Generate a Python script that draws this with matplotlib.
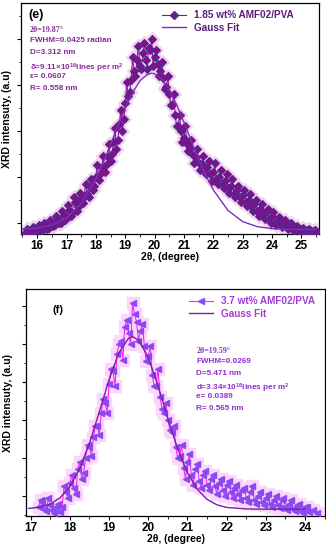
import numpy as np
import matplotlib
matplotlib.use('Agg')
import matplotlib.pyplot as plt
from matplotlib.ticker import MultipleLocator, NullFormatter

plt.rcParams['font.family'] = ['Liberation Sans', 'DejaVu Sans']
plt.rcParams['font.weight'] = 'bold'
plt.rcParams['mathtext.fontset'] = 'custom'
plt.rcParams['mathtext.rm'] = 'Liberation Sans:bold'
plt.rcParams['mathtext.bf'] = 'Liberation Sans:bold'
plt.rcParams['mathtext.default'] = 'bf'

# panel (e): 1.85 wt% AMF02/PVA  (two interleaved reads of the scan)
theta_e = [15.6, 15.7, 15.8, 15.9, 16.0, 16.1, 16.2, 16.3, 16.4, 16.5,
           16.6, 16.7, 16.8, 16.9, 17.0, 17.1, 17.2, 17.3, 17.4, 17.5,
           17.6, 17.7, 17.8, 17.9, 18.0, 18.1, 18.2, 18.3, 18.4, 18.5,
           18.6, 18.7, 18.8, 18.9, 19.0, 19.1, 19.2, 19.3, 19.4, 19.5,
           19.6, 19.7, 19.8, 19.9, 20.0, 20.1, 20.2, 20.3, 20.4, 20.5,
           20.6, 20.7, 20.8, 20.9, 21.0, 21.1, 21.2, 21.3, 21.4, 21.5,
           21.6, 21.7, 21.8, 21.9, 22.0, 22.1, 22.2, 22.3, 22.4, 22.5,
           22.6, 22.7, 22.8, 22.9, 23.0, 23.1, 23.2, 23.3, 23.4, 23.5,
           23.6, 23.7, 23.8, 23.9, 24.0, 24.1, 24.2, 24.3, 24.4, 24.5,
           24.6, 24.7, 24.8, 24.9, 25.0, 25.1, 25.2, 25.3, 25.4, 25.5]
inten_e = [0.78, 0.84, 0.80, 0.86, 0.82, 0.90, 0.85, 0.93, 0.88, 1.00,
           0.94, 1.08, 1.00, 1.16, 1.10, 1.28, 1.20, 1.45, 1.33, 1.52,
           1.55, 1.62, 1.78, 1.70, 2.00, 1.92, 2.20, 2.10, 2.42, 2.35,
           2.75, 2.60, 3.15, 3.00, 3.60, 3.75, 4.10, 4.30, 4.55, 4.40,
           4.70, 4.55, 4.80, 5.00, 4.60, 4.45, 4.30, 4.15, 3.95, 3.80,
           3.55, 3.35, 3.10, 3.00, 2.85, 2.70, 2.62, 2.48, 2.42, 2.30,
           2.28, 2.15, 2.20, 2.05, 2.10, 1.95, 2.00, 1.85, 1.90, 1.75,
           1.80, 1.62, 1.70, 1.55, 1.60, 1.45, 1.50, 1.36, 1.40, 1.26,
           1.30, 1.18, 1.22, 1.08, 1.14, 1.00, 1.06, 0.95, 1.00, 0.90,
           0.93, 0.86, 0.90, 0.83, 0.86, 0.80, 0.84, 0.79, 0.82, 0.80]
theta_e2 = [15.65, 15.75, 15.85, 15.95, 16.05, 16.15, 16.25, 16.35, 16.45, 16.55,
            16.65, 16.75, 16.85, 16.95, 17.05, 17.15, 17.25, 17.35, 17.45, 17.55,
            17.65, 17.75, 17.85, 17.95, 18.05, 18.15, 18.25, 18.35, 18.45, 18.55,
            18.65, 18.75, 18.85, 18.95, 19.05, 19.15, 19.25, 19.35, 19.45, 19.55,
            19.65, 19.75, 19.85, 19.95, 20.05, 20.15, 20.25, 20.35, 20.45, 20.55,
            20.65, 20.75, 20.85, 20.95, 21.05, 21.15, 21.25, 21.35, 21.45, 21.55,
            21.65, 21.75, 21.85, 21.95, 22.05, 22.15, 22.25, 22.35, 22.45, 22.55,
            22.65, 22.75, 22.85, 22.95, 23.05, 23.15, 23.25, 23.35, 23.45, 23.55,
            23.65, 23.75, 23.85, 23.95, 24.05, 24.15, 24.25, 24.35, 24.45, 24.55,
            24.65, 24.75, 24.85, 24.95, 25.05, 25.15, 25.25, 25.35, 25.45]
inten_e2 = [0.86, 0.77, 0.90, 0.79, 0.95, 0.82, 1.00, 0.87, 1.05, 0.92,
            1.15, 0.98, 1.25, 1.05, 1.38, 1.15, 1.55, 1.25, 1.65, 1.42,
            1.85, 1.55, 1.95, 1.80, 2.25, 2.05, 2.45, 2.25, 2.70, 2.50,
            3.05, 2.80, 3.45, 3.25, 4.05, 3.85, 4.60, 4.20, 4.85, 4.35,
            4.90, 4.35, 4.75, 4.40, 4.75, 4.20, 4.50, 3.90, 4.20, 3.55,
            3.80, 3.10, 3.35, 2.75, 3.10, 2.55, 2.80, 2.30, 2.60, 2.15,
            2.45, 2.05, 2.35, 1.90, 2.30, 1.85, 2.15, 1.75, 2.05, 1.65,
            1.95, 1.55, 1.80, 1.45, 1.70, 1.35, 1.62, 1.25, 1.50, 1.15,
            1.40, 1.08, 1.30, 1.00, 1.22, 0.95, 1.12, 0.90, 1.05, 0.85,
            0.98, 0.82, 0.92, 0.80, 0.88, 0.78, 0.85, 0.77, 0.83]
fit_theta_e = [15.5, 16.0, 16.5, 17.0, 17.5, 18.0, 18.25, 18.5, 18.75, 19.0,
               19.25, 19.5, 19.75, 19.9, 20.0, 20.25, 20.5, 20.75, 21.0, 21.25,
               21.5, 21.75, 22.0, 22.5, 23.0, 23.5, 24.0, 24.5, 25.0, 25.5]
fit_e = [0.858, 0.880, 0.943, 1.098, 1.415, 1.954, 2.305, 2.696, 3.101, 3.492,
         3.831, 4.085, 4.226, 4.250, 4.239, 4.122, 3.890, 3.565, 3.182, 2.777,
         2.382, 2.021, 1.711, 1.264, 1.020, 0.910, 0.868, 0.854, 0.851, 0.850]

# panel (f): 3.7 wt% AMF02/PVA
theta_f = [17.2, 17.3, 17.4, 17.5, 17.6, 17.7, 17.8, 17.9, 18.0, 18.1,
           18.2, 18.3, 18.4, 18.5, 18.6, 18.7, 18.8, 18.9, 19.0, 19.1,
           19.2, 19.3, 19.4, 19.5, 19.6, 19.7, 19.8, 19.9, 20.0, 20.1,
           20.2, 20.3, 20.4, 20.5, 20.6, 20.7, 20.8, 20.9, 21.0, 21.1,
           21.2, 21.3, 21.4, 21.5, 21.6, 21.7, 21.8, 21.9, 22.0, 22.1,
           22.2, 22.3, 22.4, 22.5, 22.6, 22.7, 22.8, 22.9, 23.0, 23.1,
           23.2, 23.3, 23.4, 23.5, 23.6, 23.7, 23.8, 23.9, 24.0, 24.1,
           24.2, 24.3]
inten_f = [0.72, 0.85, 0.60, 0.75, 0.55, 0.80, 0.70, 1.10, 1.35, 1.20,
           1.70, 1.45, 2.00, 2.30, 2.55, 2.85, 3.20, 3.45, 3.95, 4.30,
           4.75, 5.10, 5.45, 5.30, 6.10, 5.60, 5.35, 4.95, 4.70, 4.20,
           3.90, 3.60, 3.20, 3.00, 2.70, 2.30, 2.05, 1.75, 1.90, 1.55,
           1.70, 1.40, 1.55, 1.30, 1.45, 1.25, 1.35, 1.15, 1.30, 1.10,
           1.20, 1.05, 1.15, 0.95, 1.10, 0.90, 1.00, 0.85, 0.95, 0.80,
           0.90, 0.75, 0.88, 0.70, 0.80, 0.65, 0.75, 0.60, 0.70, 0.58,
           0.62, 0.55]
theta_f2 = [17.25, 17.35, 17.45, 17.55, 17.65, 17.75, 17.85, 17.95, 18.05, 18.15,
            18.25, 18.35, 18.45, 18.55, 18.65, 18.75, 18.85, 18.95, 19.05, 19.15,
            19.25, 19.35, 19.45, 19.55, 19.65, 19.75, 19.85, 19.95, 20.05, 20.15,
            20.25, 20.35, 20.45, 20.55, 20.65, 20.75, 20.85, 20.95, 21.05, 21.15,
            21.25, 21.35, 21.45, 21.55, 21.65, 21.75, 21.85, 21.95, 22.05, 22.15,
            22.25, 22.35, 22.45, 22.55, 22.65, 22.75, 22.85, 22.95, 23.05, 23.15,
            23.25, 23.35, 23.45, 23.55, 23.65, 23.75, 23.85, 23.95, 24.05]
inten_f2 = [0.90, 0.65, 0.95, 0.62, 0.70, 0.58, 1.25, 0.95, 1.55, 1.05,
            1.90, 1.60, 2.35, 2.05, 2.85, 2.60, 3.55, 3.20, 4.35, 3.90,
            5.00, 4.60, 5.65, 5.00, 5.80, 5.10, 5.55, 4.55, 4.95, 3.90,
            4.35, 3.30, 3.45, 2.75, 2.85, 2.00, 2.35, 1.45, 2.10, 1.30,
            1.85, 1.20, 1.65, 1.15, 1.55, 1.05, 1.45, 1.00, 1.40, 0.95,
            1.30, 0.90, 1.20, 0.85, 1.25, 0.80, 1.10, 0.75, 1.05, 0.70,
            1.00, 0.68, 0.95, 0.62, 0.88, 0.60, 0.80, 0.56, 0.72]
fit_theta_f = [16.95, 17.25, 17.5, 17.75, 18.0, 18.25, 18.5, 18.75, 19.0, 19.25,
               19.5, 19.6, 19.75, 20.0, 20.25, 20.5, 20.75, 21.0, 21.25, 21.5,
               21.75, 22.0, 22.5, 23.0, 23.5, 24.0]
fit_f = [0.671, 0.707, 0.787, 0.951, 1.246, 1.722, 2.393, 3.215, 4.069, 4.779,
         5.164, 5.200, 5.119, 4.657, 3.904, 3.042, 2.243, 1.610, 1.174, 0.909,
         0.766, 0.697, 0.656, 0.650, 0.650, 0.650]

notes_e = ['FWHM=0.0425 radian', 'D=3.312 nm',
           'δ=9.11×10$^{16}$lines per m$^{2}$', 'ε= 0.0607', 'R= 0.558 nm']
notes_f = ['FWHM=0.0269', 'D=5.471 nm',
           'd=3.34×10$^{16}$lines per m$^{2}$', 'e= 0.0389', 'R= 0.565 nm']


def merged(xa, ya, xb, yb):
    x = np.concatenate([xa, xb])
    y = np.concatenate([ya, yb])
    order = np.argsort(x)
    return x[order], y[order]


fig = plt.figure(figsize=(3.26, 5.5), dpi=100)
ax1 = fig.add_axes([0.0644, 0.5745, 0.9141, 0.42])
ax2 = fig.add_axes([0.0798, 0.0618, 0.9172, 0.4127])


def style_axis(ax, xmajor):
    ax.xaxis.set_major_locator(MultipleLocator(xmajor))
    ax.xaxis.set_minor_locator(MultipleLocator(xmajor / 2))
    ax.yaxis.set_major_locator(MultipleLocator(1))
    ax.yaxis.set_minor_locator(MultipleLocator(0.5))
    ax.yaxis.set_major_formatter(NullFormatter())
    ax.tick_params(which='major', direction='out', length=3, width=0.8,
                   labelsize=8.5, pad=1.5)
    ax.tick_params(which='minor', direction='out', length=1.8, width=0.6)
    for lab in ax.get_xticklabels():
        lab.set_fontweight('bold')
    for sp in ax.spines.values():
        sp.set_linewidth(0.9)


# ---- panel (e)
xe, ye = merged(theta_e, inten_e, theta_e2, inten_e2)
ax1.plot(xe, ye, 'D', ms=7, color='#f3d2f0', zorder=1)
ax1.plot(xe, ye, '-', lw=0.8, color='#a0189c', zorder=2)
ax1.plot(xe, ye, 'D', ms=4, mfc='#8b0a8b', mec='#4b2c8c', mew=0.8, zorder=3)
ax1.plot(fit_theta_e, fit_e, '-', lw=1.0, color='#7a2fbf', zorder=4)
h1, = ax1.plot([], [], '-D', ms=4, lw=0.8, color='#5a2d82', mfc='#6a1b8a')
h2, = ax1.plot([], [], '-', lw=1.0, color='#7a2fbf')
leg = ax1.legend([h1, h2], ['1.85 wt% AMF02/PVA', 'Gauss Fit'], loc='upper right',
                 bbox_to_anchor=(0.94, 1.0), frameon=False, fontsize=7.2,
                 handlelength=2.4, borderaxespad=0.3, labelspacing=0.25)
for t in leg.get_texts():
    t.set_color('#5a1e7a')
ax1.set_xlim(15.45, 25.6)
ax1.set_ylim(0.75, 5.78)
style_axis(ax1, 1)
ax1.set_xlabel('2θ, (degree)', fontsize=7.5, fontweight='bold', labelpad=0)
ax1.set_ylabel('XRD intensuty, (a.u)', fontsize=7.5, fontweight='bold', labelpad=1)
ax1.text(0.025, 0.975, '(e)', transform=ax1.transAxes, fontsize=9,
         fontweight='bold', va='top')
ax1.text(0.03, 0.90, '2θ=19.87°', transform=ax1.transAxes, fontsize=5.8,
         family='Liberation Serif', color='#8b2b9b', va='top')
for i, s in enumerate(notes_e):
    ax1.text(0.03, 0.852 - i * 0.052, s, transform=ax1.transAxes, fontsize=5.9,
             fontweight='bold', color='#8b2b9b', va='top')

# ---- panel (f)
xf, yf = merged(theta_f, inten_f, theta_f2, inten_f2)
ax2.plot(xf, yf, 's', ms=8, color='#fbd6fb', zorder=1)
ax2.plot(xf, yf, '-', lw=0.8, color='#ff20ff', zorder=2)
ax2.plot(xf, yf, '<', ms=4.5, color='#8a4af0', zorder=3)
ax2.plot(fit_theta_f, fit_f, '-', lw=1.0, color='#7b1fa2', zorder=4)
g1, = ax2.plot([], [], '-<', ms=4.5, lw=0.8, color='#ff20ff', mfc='#8a4af0',
               mec='#8a4af0')
g2, = ax2.plot([], [], '-', lw=1.0, color='#7b1fa2')
leg2 = ax2.legend([g1, g2], ['3.7 wt% AMF02/PVA', 'Gauss Fit'], loc='upper right',
                  bbox_to_anchor=(0.99, 1.0), frameon=False, fontsize=7.2,
                  handlelength=2.4, borderaxespad=0.3, labelspacing=0.25)
for t in leg2.get_texts():
    t.set_color('#a23bd8')
ax2.set_xlim(16.88, 24.51)
ax2.set_ylim(0.47, 6.46)
style_axis(ax2, 1)
ax2.set_xlabel('2θ, (degree)', fontsize=7.5, fontweight='bold', labelpad=0)
ax2.set_ylabel('XRD intensuty, (a.u)', fontsize=7.5, fontweight='bold', labelpad=4)
ax2.text(0.09, 0.93, '(f)', transform=ax2.transAxes, fontsize=8,
         fontweight='bold', va='top')
ax2.text(0.57, 0.745, '2θ=19.59°', transform=ax2.transAxes, fontsize=5.8,
         family='Liberation Serif', color='#9030d0', va='top')
for i, s in enumerate(notes_f):
    ax2.text(0.57, 0.697 - i * 0.052, s, transform=ax2.transAxes, fontsize=5.9,
             fontweight='bold', color='#9030d0', va='top')

fig.savefig('out.png', dpi=100)
